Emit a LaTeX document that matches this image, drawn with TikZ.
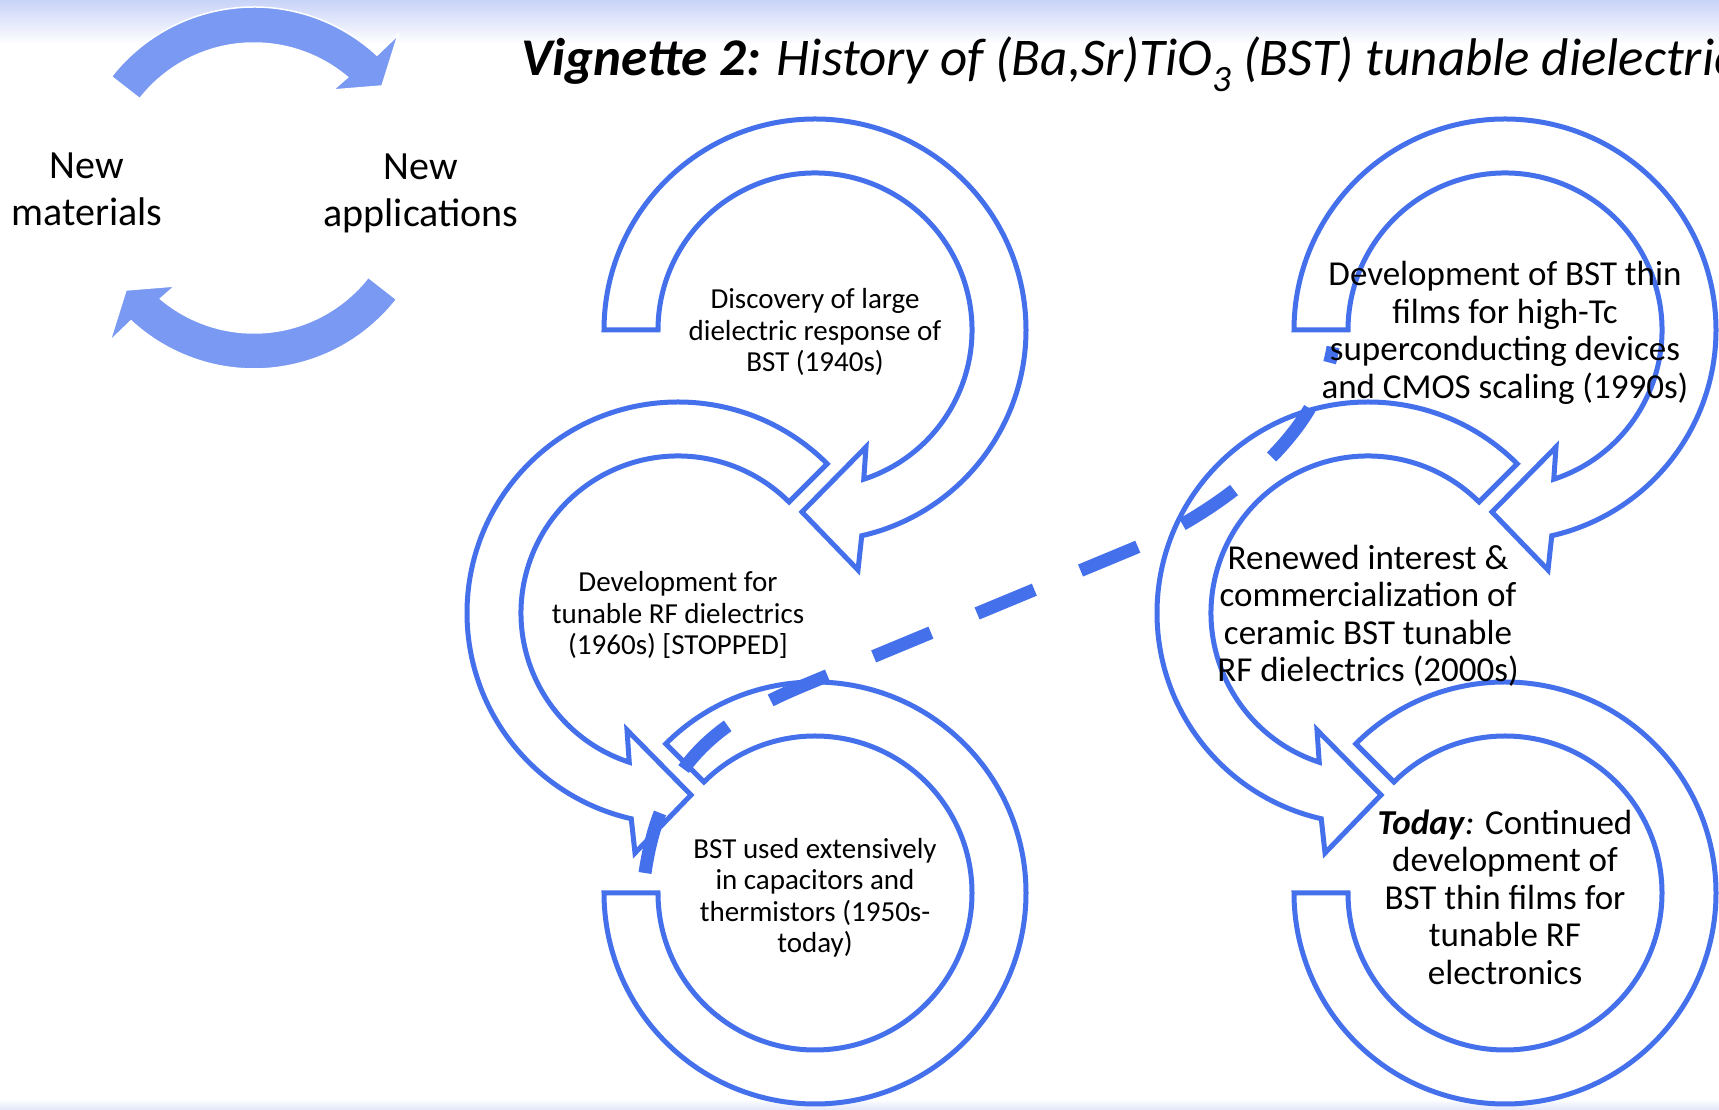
\documentclass[tikz,border=0pt]{standalone}
\usepackage{fontspec}
\setmainfont{Carlito}

\definecolor{ringblue}{RGB}{68,112,235}
\definecolor{loopblue}{RGB}{122,153,242}
\definecolor{topband}{RGB}{200,211,248}
\definecolor{botband}{RGB}{226,231,251}

\tikzset{
  pics/cyclearrow/.style={code={
    \draw[ring] (#1:211) arc[start angle=#1,end angle=-77.2,radius=211]
      -- (43,-240) -- (-13,-182) -- (51,-117)
      -- (-71.9:157) arc[start angle=-71.9,end angle=#1,radius=157] -- cycle;
  }},
  pics/cycleend/.style={code={
    \draw[ring] (135:211) arc[start angle=135,end angle=-180,radius=211]
      -- (-180:157) arc[start angle=-180,end angle=135,radius=157] -- cycle;
  }},
  pics/looparrow/.style={code={
    \fill[loopblue,draw=white,line width=1.5pt] (142:181) arc[start angle=142,end angle=47.2,radius=181]
      -- (144,153) -- (128,102) -- (79,98)
      -- (49.8:145) arc[start angle=49.8,end angle=142,radius=145] -- cycle;
  }}
}

\begin{document}
\begin{tikzpicture}[x=1pt,y=1pt,
    ring/.style={draw=ringblue,fill=white,line width=5pt,line join=miter},
    dashline/.style={draw=ringblue,line width=13pt,dash pattern=on 62pt off 50pt},
    bigtxt/.style={font=\fontsize{40}{47}\selectfont,align=center,inner sep=0pt},
    smalltxt/.style={font=\fontsize{29}{31.5}\selectfont,align=center,inner sep=0pt},
    midtxt/.style={font=\fontsize{35}{37.5}\selectfont,align=center,inner sep=0pt}]
    \clip (0,0) rectangle (1719,1110);
    \fill[white] (0,0) rectangle (1719,1110);
    \shade[top color=topband,bottom color=white] (0,1066) rectangle (1719,1110);
    \shade[top color=white,bottom color=botband] (0,0) rectangle (1719,11);

    \pic at (254,922) {looparrow};
    \pic[rotate=180] at (254,922) {looparrow};
    \node[bigtxt](mat)at(87,921) {New\\materials};
    \node[bigtxt](app)at(421,917) {New\\applications};

    \node[anchor=base west,inner sep=0pt,font=\fontsize{53}{60}\selectfont\itshape](title)at(521,1034)
        {\textbf{Vignette 2:} History of (Ba,Sr)TiO\textsubscript{3} (BST) tunable dielectric};

    \pic at (815,780) {cyclearrow=180};
    \pic[xscale=-1] at (678,497) {cyclearrow=135};
    \pic at (815,217) {cycleend};
    \pic at (1505,780) {cyclearrow=180};
    \pic[xscale=-1] at (1368,497) {cyclearrow=135};
    \pic at (1505,217) {cycleend};

    \coordinate (dstart) at (645,237);
    \coordinate (dend) at (1333,763);
    \draw[dashline](dstart) .. controls (660,340) and (710,385) .. (800,423) -- (1130,560)
        .. controls (1215,595) and (1318,670) .. (dend);

    \node[smalltxt](discovery)at(815,778) {Discovery of large\\dielectric response of\\BST (1940s)};
    \node[smalltxt](tunable)at(678,495) {Development for\\tunable RF dielectrics\\(1960s) [STOPPED]};
    \node[smalltxt](used)at(815,212) {BST used extensively\\in capacitors and\\thermistors (1950s-\\today)};
    \node[midtxt](films)at(1505,777) {Development of BST thin\\films for high-Tc\\superconducting devices\\and CMOS scaling (1990s)};
    \node[midtxt](renewed)at(1368,494) {Renewed interest \&\\commercialization of\\ceramic BST tunable\\RF dielectrics (2000s)};
    \node[midtxt](today)at(1505,213) {\textbf{\textit{Today}}\textit{:} Continued\\development of\\BST thin films for\\tunable RF\\electronics};
\end{tikzpicture}
\end{document}
